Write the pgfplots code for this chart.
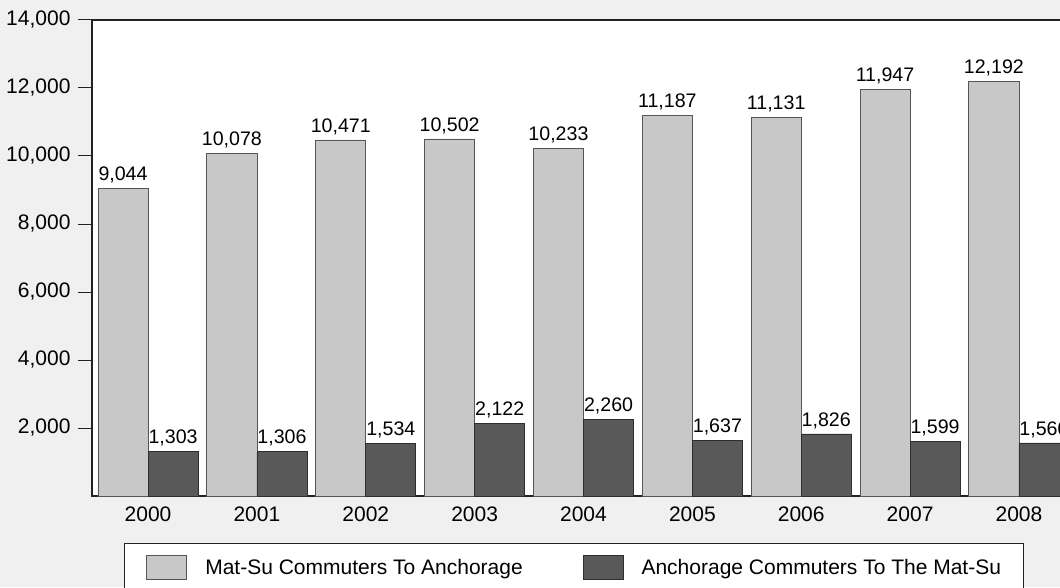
\documentclass[border=0pt]{standalone}
\usepackage{fontspec}
\setmainfont{Liberation Sans}
\usepackage{pgfplots}
\pgfplotsset{compat=1.18}

\definecolor{pagebg}{HTML}{F0F0F0}
\definecolor{lightbar}{HTML}{C8C8C8}
\definecolor{darkbar}{HTML}{595959}
\definecolor{lightedge}{HTML}{555555}
\definecolor{darkedge}{HTML}{2E2E2E}
\definecolor{framecol}{HTML}{222222}

% rectangular legend swatch, 40 x 24 (the empty path keeps room below it)
\pgfplotsset{swatch/.style={legend image code/.code={%
  \draw[##1] (0pt,-12pt) rectangle (40pt,12pt);
  \path (0pt,-22pt);}}}

\begin{document}
\begin{tikzpicture}
\path[use as bounding box, fill=pagebg] (0pt,0pt) rectangle (1060pt,587pt);
\begin{axis}[
  at={(92pt,91pt)}, anchor=south west,
  scale only axis, width=983pt, height=476pt,
  xmin=-0.515, xmax=8.515, ymin=0, ymax=14000,
  ybar=0pt, bar width=0.46,
  axis line style={draw=framecol, line width=1.2pt},
  axis background/.style={fill=white},
  xtick=data,
  xticklabels={2000,2001,2002,2003,2004,2005,2006,2007,2008},
  xtick style={draw=none},
  ytick={2000,4000,6000,8000,10000,12000},
  extra y ticks={14000},
  extra y tick style={major tick style={draw=none}},
  ytick pos=left, tick align=outside, major tick length=14pt,
  ytick style={draw=framecol, line width=1pt},
  scaled y ticks=false,
  /pgf/number format/1000 sep={,},
  /pgf/number format/assume math mode=true,
  tick label style={font=\fontsize{21}{25}\selectfont, text=black},
  yticklabel style={xshift=-4pt},
  xticklabel style={yshift=7pt},
  nodes near coords,
  nodes near coords style={font=\fontsize{19.6}{23}\selectfont, text=black,
    anchor=south, text depth=0pt, inner ysep=7.5pt},
  legend style={
    at={(axis description cs:0.03255,-0.0987)}, anchor=north west,
    draw=framecol, fill=white, line width=1pt,
    inner xsep=22pt, inner ysep=12pt,
    font=\fontsize{21}{25}\selectfont,
    nodes={inner sep=0pt},
    /tikz/every odd column/.append style={column sep=18pt},
    /tikz/every even column/.append style={column sep=60pt},
  },
  legend columns=2,
  legend cell align=left,
]
\addplot[fill=lightbar, draw=lightedge, line width=0.8pt, swatch]
  coordinates {(0,9044) (1,10078) (2,10471) (3,10502) (4,10233)
               (5,11187) (6,11131) (7,11947) (8,12192)};
\addplot[fill=darkbar, draw=darkedge, line width=0.8pt, swatch]
  coordinates {(0,1303) (1,1306) (2,1534) (3,2122) (4,2260)
               (5,1637) (6,1826) (7,1599) (8,1560)};
\legend{Mat-Su Commuters To Anchorage, Anchorage Commuters To The Mat-Su}
\end{axis}
\end{tikzpicture}
\end{document}
